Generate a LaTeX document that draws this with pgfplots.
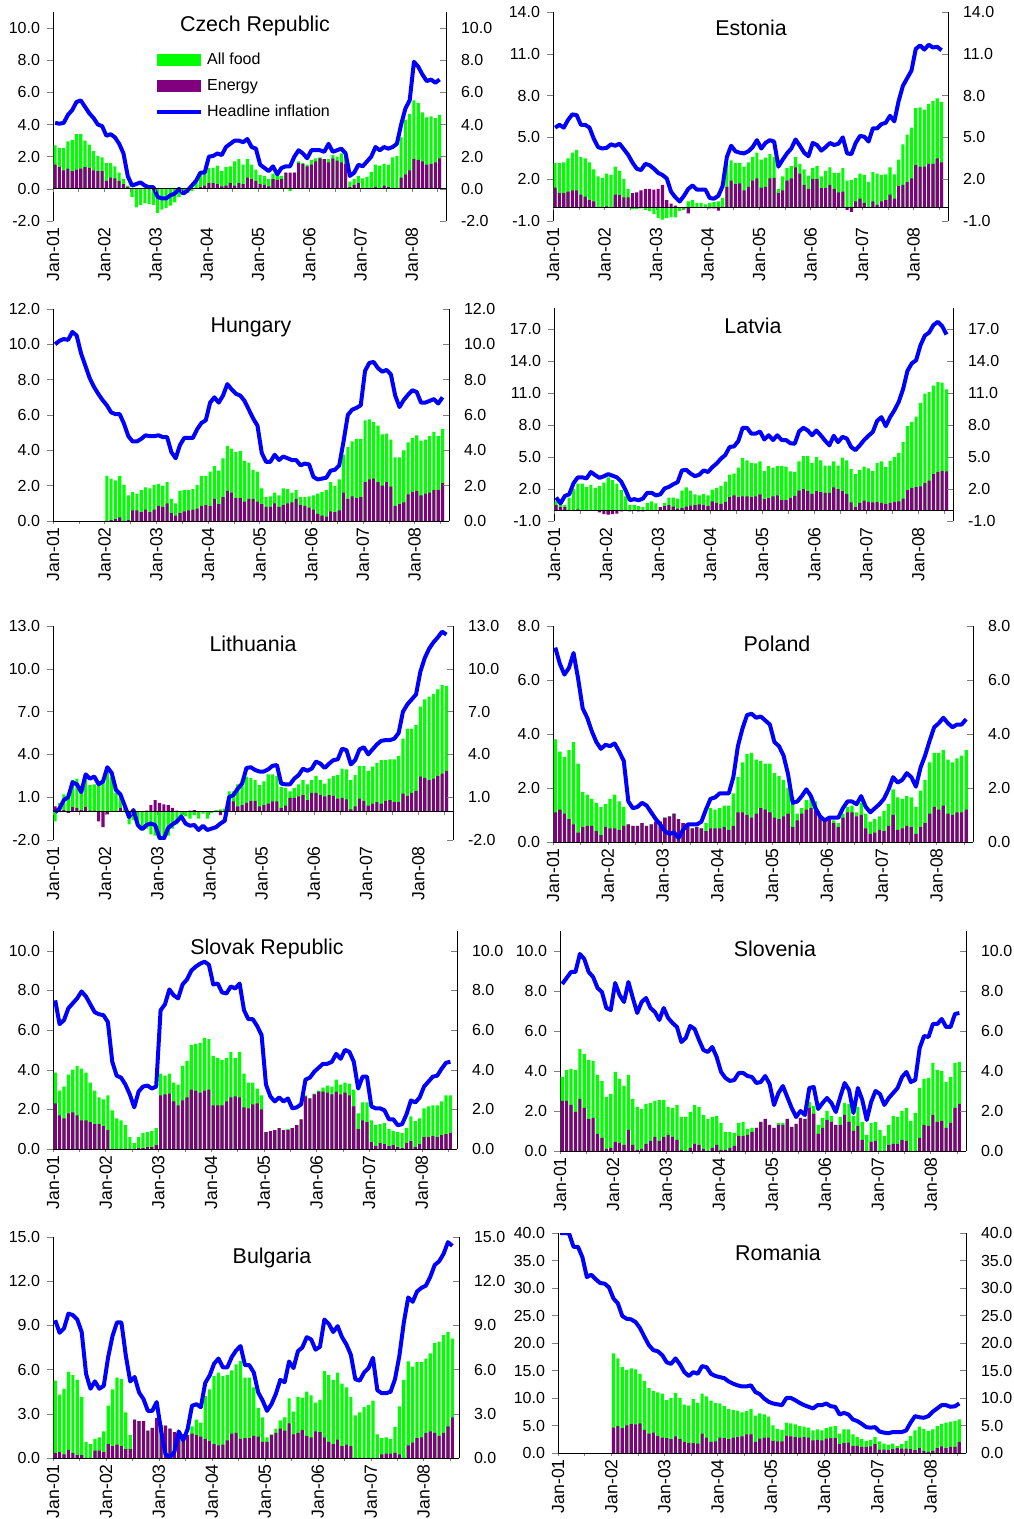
\documentclass[border=0pt]{standalone}
\usepackage{fontspec}
\setmainfont{Liberation Sans}
\usepackage{pgfplots}
\usepackage{pgfplotstable}
\pgfplotsset{compat=1.18}

\definecolor{foodgreen}{RGB}{0,255,0}
\definecolor{energypurple}{RGB}{128,0,128}
\definecolor{lineblue}{RGB}{0,0,255}
\newcommand{\tickfont}{\fontsize{8}{9.6}\selectfont}
\newcommand{\xtickfont}{\fontsize{8.8}{10}\selectfont}
\newcommand{\titlefont}{\fontsize{10.7}{12}\selectfont}

% columns: month index (0 = Jan-01), all food, energy, headline inflation
\pgfplotstableread{
m g e h
0 2.7 1.5 4.1
1 2.55 1.35 4.05
2 2.55 1.15 4.1
3 2.95 1.25 4.6
4 3.05 1.1 4.9
5 3.4 1.2 5.4
6 3.4 1.25 5.5
7 3.0 1.35 5.1
8 2.75 1.3 4.7
9 2.35 1.15 4.4
10 2.05 1.1 4.0
11 1.95 1.1 3.9
12 1.6 0.5 3.3
13 1.6 0.7 3.4
14 1.4 0.65 3.2
15 1.0 0.5 2.8
16 0.6 0.3 2.2
17 0.2 0.1 0.8
18 -0.5 0 0.2
19 -1.15 0 0.3
20 -1.0 0 0.4
21 -0.9 0 0.2
22 -0.95 0 0.1
23 -1.0 0 0.1
24 -1.5 0 -0.5
25 -1.3 0 -0.6
26 -1.2 0 -0.6
27 -1.05 0 -0.4
28 -0.85 0 -0.3
29 -0.5 0 0.0
30 -0.3 0 -0.3
31 -0.25 0 -0.1
32 -0.15 0 0.2
33 0.5 0.05 0.5
34 0.9 0.1 1.0
35 1.0 0.2 1.0
36 1.3 0.35 2.0
37 1.3 0.35 2.05
38 1.45 0.3 2.2
39 1.1 0.15 2.1
40 1.35 0.2 2.6
41 1.4 0.35 2.8
42 1.7 0.2 3.0
43 1.85 0.35 3.0
44 1.5 0.3 2.9
45 1.85 0.7 3.1
46 1.5 0.6 2.6
47 1.2 0.5 2.5
48 0.85 0.3 1.5
49 0.8 0.25 1.3
50 0.6 0.15 1.1
51 0.95 0.6 1.4
52 0.85 0.55 0.9
53 0.8 0.6 1.3
54 1.0 1.0 1.4
55 -0.15 1.0 1.4
56 1.0 1.0 2.0
57 1.7 1.6 2.4
58 1.6 1.55 2.2
59 1.5 1.4 1.9
60 1.8 1.5 2.4
61 1.9 1.7 2.4
62 1.95 1.9 2.4
63 1.85 1.85 2.3
64 1.85 1.65 2.8
65 2.1 1.9 2.3
66 2.0 1.75 2.4
67 2.2 1.65 2.5
68 2.2 1.55 2.2
69 0.45 0.1 0.8
70 0.6 0.25 1.0
71 0.8 0.35 1.5
72 0.65 0.05 1.4
73 0.75 0.05 1.7
74 1.05 0.05 2.0
75 1.5 0.1 2.6
76 1.45 0.05 2.4
77 1.55 0.2 2.6
78 1.5 0.1 2.5
79 1.95 0.05 2.6
80 2.05 0.05 2.8
81 3.2 0.7 4.0
82 4.3 0.9 5.0
83 4.65 1.15 5.5
84 5.5 1.85 7.9
85 5.35 1.8 7.6
86 4.75 1.7 7.1
87 4.45 1.5 6.7
88 4.5 1.55 6.8
89 4.4 1.65 6.6
90 4.6 1.9 6.8
}\czech

\pgfplotstableread{
m g e h
0 3.15 1.4 5.7
1 3.15 1.0 5.9
2 3.2 1.0 5.7
3 3.5 1.1 6.25
4 3.9 1.2 6.65
5 4.1 1.2 6.6
6 3.6 0.9 5.9
7 3.5 0.75 5.9
8 3.2 0.5 5.7
9 2.7 0.4 4.9
10 2.2 0.0 4.3
11 2.1 0.0 4.2
12 2.4 0.05 4.25
13 2.3 0.0 4.5
14 2.9 0.9 4.4
15 2.6 0.85 4.55
16 2.0 0.7 4.15
17 1.3 0.7 3.75
18 -0.15 1.0 3.2
19 -0.15 1.05 2.75
20 -0.1 1.2 2.65
21 -0.2 1.3 3.1
22 -0.3 1.3 3.0
23 -0.5 1.25 2.75
24 -0.8 1.3 2.45
25 -0.9 1.6 2.3
26 -0.8 0.5 2.05
27 -0.75 0.25 1.1
28 -0.75 0.1 0.7
29 -0.3 0.0 0.4
30 -0.2 -0.1 0.8
31 0.4 -0.45 1.3
32 0.5 0.0 1.55
33 0.3 0.0 1.25
34 0.3 0.0 1.25
35 0.2 0.0 1.25
36 0.3 -0.1 0.65
37 0.35 -0.1 0.6
38 0.4 -0.25 0.8
39 0.65 0.0 1.5
40 3.0 1.45 3.6
41 3.35 1.9 4.4
42 3.15 1.65 4.0
43 3.15 1.7 3.9
44 2.9 1.2 3.85
45 3.2 1.45 4.0
46 3.6 1.9 4.3
47 3.9 2.05 4.8
48 3.4 1.4 4.2
49 3.55 1.45 4.6
50 3.8 2.05 4.8
51 3.6 2.1 4.7
52 1.3 1.0 2.9
53 2.2 1.2 3.4
54 2.8 1.9 3.85
55 2.95 2.05 4.2
56 3.6 2.85 4.85
57 3.1 2.4 4.4
58 2.7 1.6 3.9
59 2.25 1.3 3.65
60 2.8 2.0 4.6
61 2.95 2.0 4.45
62 2.2 1.35 4.05
63 2.6 1.35 4.3
64 2.85 1.6 4.6
65 2.45 1.3 4.45
66 2.45 1.05 4.55
67 2.8 1.1 5.0
68 1.9 -0.2 3.85
69 1.95 -0.35 3.8
70 2.1 0.4 4.6
71 2.4 0.6 5.1
72 2.3 0.3 5.05
73 1.8 0.0 4.7
74 2.5 0.4 5.65
75 2.4 0.15 5.65
76 2.3 0.4 5.95
77 2.35 0.5 6.05
78 2.85 0.9 6.55
79 2.35 0.6 6.15
80 3.4 1.5 7.6
81 4.5 1.6 8.7
82 5.2 1.8 9.25
83 5.7 2.05 9.8
84 7.1 3.0 11.35
85 7.15 2.9 11.6
86 7.0 2.9 11.3
87 7.4 3.1 11.65
88 7.6 3.1 11.45
89 7.8 3.5 11.5
90 7.55 3.2 11.25
}\estonia

\pgfplotstableread{
m g e h
0 nan nan 10.0
1 nan nan 10.2
2 nan nan 10.3
3 nan nan 10.25
4 nan nan 10.7
5 nan nan 10.5
6 nan nan 9.5
7 nan nan 8.8
8 nan nan 8.1
9 nan nan 7.6
10 nan nan 7.2
11 nan nan 6.85
12 2.55 0.0 6.55
13 2.4 0.05 6.15
14 2.3 0.1 6.05
15 2.55 0.2 6.05
16 2.05 0.0 5.5
17 1.45 0.05 4.8
18 1.65 0.6 4.5
19 1.55 0.6 4.5
20 1.75 0.5 4.65
21 1.9 0.65 4.85
22 1.85 0.5 4.8
23 2.05 0.65 4.8
24 2.1 0.85 4.85
25 2.0 0.8 4.75
26 2.2 1.0 4.75
27 1.25 0.45 3.9
28 1.0 0.3 3.55
29 1.7 0.45 4.3
30 1.75 0.55 4.7
31 1.75 0.6 4.7
32 1.8 0.65 4.7
33 2.05 0.7 5.2
34 2.55 0.85 5.55
35 2.55 0.9 5.7
36 2.8 0.85 6.7
37 3.1 1.25 7.0
38 2.85 0.95 6.7
39 3.55 1.35 7.1
40 4.25 1.7 7.75
41 4.1 1.6 7.45
42 3.9 1.3 7.2
43 3.95 1.3 7.1
44 3.4 1.1 6.8
45 3.3 1.25 6.3
46 2.9 1.25 5.8
47 2.8 1.1 5.4
48 1.85 0.95 3.85
49 1.35 0.8 3.35
50 1.4 0.8 3.35
51 1.6 1.0 3.75
52 1.45 0.8 3.45
53 1.85 0.9 3.65
54 1.8 1.0 3.55
55 1.6 1.05 3.45
56 1.75 1.25 3.45
57 1.35 0.9 3.15
58 1.35 0.85 3.25
59 1.4 0.75 3.2
60 1.45 0.65 2.5
61 1.55 0.4 2.35
62 1.65 0.3 2.4
63 1.75 0.25 2.45
64 2.2 0.55 2.85
65 2.0 0.5 2.9
66 2.35 0.6 3.15
67 3.75 1.6 4.5
68 4.2 1.25 6.0
69 4.5 1.4 6.3
70 4.65 1.3 6.4
71 4.65 1.35 6.55
72 5.7 2.2 8.5
73 5.75 2.35 8.95
74 5.6 2.4 9.0
75 5.4 2.2 8.65
76 4.9 2.0 8.45
77 4.95 2.2 8.55
78 4.6 1.95 8.3
79 3.6 0.85 7.1
80 3.6 0.95 6.45
81 4.0 1.05 6.85
82 4.45 1.5 7.15
83 4.7 1.65 7.4
84 4.85 1.7 7.3
85 4.55 1.45 6.7
86 4.6 1.55 6.7
87 4.8 1.6 6.8
88 5.05 1.75 6.9
89 4.8 1.75 6.65
90 5.2 2.15 7.0
}\hungary

\pgfplotstableread{
m g e h
0 0.85 0.5 1.2
1 0.5 0.3 0.65
2 0.5 0.3 1.35
3 1.2 0.05 1.5
4 2.0 0.05 2.55
5 2.5 0.1 3.1
6 2.5 0.0 3.1
7 2.2 0.0 3.0
8 2.4 -0.05 3.6
9 2.1 -0.05 3.3
10 2.3 -0.2 3.05
11 2.6 -0.35 3.2
12 3.1 -0.4 3.4
13 2.85 -0.35 3.25
14 2.5 -0.3 3.1
15 1.9 -0.1 2.7
16 1.3 -0.05 1.9
17 0.5 -0.1 0.95
18 0.5 -0.05 1.05
19 0.4 -0.1 0.95
20 0.3 -0.1 1.1
21 0.7 0.0 1.65
22 0.85 0.0 1.65
23 0.65 0.0 1.4
24 -0.05 0.3 1.5
25 0.7 0.4 2.05
26 1.2 0.5 2.2
27 1.2 0.35 2.45
28 1.1 0.15 2.65
29 1.85 0.2 3.75
30 2.15 0.35 3.8
31 1.85 0.45 3.45
32 1.5 0.5 3.2
33 1.4 0.55 3.35
34 1.55 0.5 3.75
35 1.4 0.4 3.6
36 1.95 0.85 4.05
37 2.1 0.7 4.4
38 2.3 0.6 4.85
39 2.7 0.8 5.2
40 3.35 1.25 5.95
41 3.45 1.4 6.0
42 4.0 1.25 6.5
43 4.9 1.3 7.75
44 4.7 1.3 7.75
45 4.45 1.25 7.2
46 4.4 1.3 7.2
47 4.6 1.5 7.4
48 3.7 1.05 6.65
49 4.15 1.15 7.05
50 4.0 1.3 6.6
51 4.15 1.4 7.05
52 4.15 0.95 6.6
53 4.1 0.95 6.6
54 3.65 1.15 6.3
55 3.6 1.35 6.25
56 4.6 1.85 7.4
57 5.1 2.0 7.75
58 5.1 1.8 7.5
59 4.45 1.55 7.05
60 5.0 1.8 7.5
61 4.7 1.7 7.05
62 4.2 1.65 6.55
63 4.2 1.65 6.1
64 4.6 2.15 7.0
65 4.2 2.0 6.4
66 4.95 1.8 6.9
67 4.7 1.55 6.75
68 3.9 0.75 5.95
69 3.4 0.3 5.65
70 3.8 0.7 6.1
71 4.1 0.9 6.6
72 3.95 0.8 7.0
73 3.7 0.75 7.35
74 4.45 0.8 8.4
75 4.6 0.7 8.75
76 4.05 0.6 7.9
77 4.65 0.7 8.75
78 5.0 0.8 9.4
79 5.4 0.85 10.2
80 6.4 1.1 11.4
81 7.9 1.9 13.1
82 8.3 2.1 13.8
83 8.8 2.2 14.1
84 10.1 2.25 15.5
85 10.95 2.55 16.4
86 11.1 2.8 16.7
87 11.7 3.4 17.4
88 12.05 3.6 17.7
89 12.0 3.7 17.3
90 11.35 3.65 16.5
}\latvia

\pgfplotstableread{
m g e h
0 -0.7 0.35 -0.05
1 0.6 0.2 0.2
2 1.2 0.1 0.8
3 1.25 -0.1 1.0
4 2.2 0.3 2.05
5 2.3 0.25 1.9
6 1.6 0.1 1.35
7 2.4 0.3 2.6
8 1.85 0.05 2.3
9 1.9 0.05 2.45
10 2.1 -0.7 1.9
11 2.1 -1.1 2.1
12 2.9 -0.2 3.1
13 2.4 0.0 2.7
14 1.3 0.0 1.5
15 1.0 0.25 1.2
16 0.2 0.0 0.4
17 -0.9 0.0 -0.4
18 -0.6 0.0 0.1
19 -1.0 -0.05 -0.95
20 -1.3 -0.05 -1.25
21 -1.2 0.05 -0.95
22 -1.6 0.45 -0.85
23 -1.7 0.8 -0.95
24 -2.2 0.6 -1.85
25 -2.2 0.5 -1.9
26 -1.7 0.45 -1.15
27 -1.2 0.25 -0.9
28 -0.9 0.05 -0.7
29 -0.6 0.0 -0.35
30 -0.35 0.0 -0.85
31 -0.5 0.05 -1.0
32 -0.25 0.1 -0.95
33 -0.5 0.0 -1.3
34 -0.15 0.0 -1.0
35 -0.5 0.0 -1.3
36 -0.1 0.0 -1.2
37 0.1 -0.05 -1.1
38 0.15 -0.25 -0.85
39 0.2 0.0 -0.65
40 1.4 0.7 1.0
41 1.4 0.7 1.15
42 1.9 0.35 1.6
43 2.2 0.45 1.95
44 2.45 0.6 3.05
45 2.35 0.75 3.1
46 2.2 0.75 2.9
47 1.85 0.35 2.8
48 2.1 0.45 2.8
49 2.6 0.55 2.95
50 2.6 0.7 3.2
51 2.5 0.7 3.25
52 1.7 0.25 1.95
53 1.65 0.4 1.9
54 1.4 0.95 1.9
55 1.65 0.95 2.3
56 1.9 1.05 2.55
57 2.2 1.15 3.0
58 1.9 0.8 2.85
59 2.2 1.3 3.0
60 2.5 1.3 3.5
61 2.2 1.15 3.35
62 1.95 1.05 3.05
63 2.3 1.15 3.35
64 2.5 1.1 3.6
65 2.55 0.9 3.65
66 3.0 0.95 4.4
67 2.95 0.85 4.3
68 2.2 0.15 3.3
69 2.55 0.35 3.6
70 3.2 0.9 4.35
71 3.2 0.75 4.5
72 2.85 0.4 4.0
73 3.15 0.55 4.35
74 3.4 0.65 4.7
75 3.6 0.55 4.95
76 3.6 0.75 5.0
77 3.65 0.8 5.0
78 3.65 0.65 5.1
79 3.9 0.65 5.5
80 5.1 1.25 7.0
81 5.8 1.1 7.5
82 5.8 1.3 7.85
83 6.05 1.45 8.2
84 7.35 2.45 9.8
85 7.85 2.35 10.75
86 8.05 2.2 11.4
87 8.25 2.3 11.85
88 8.55 2.5 12.2
89 8.85 2.65 12.6
90 8.8 2.85 12.4
}\lithuania

\pgfplotstableread{
m g e h
0 3.8 1.1 7.2
1 3.35 1.2 6.6
2 3.15 1.05 6.2
3 3.4 0.85 6.45
4 3.7 0.65 7.0
5 2.9 0.35 6.05
6 1.85 0.55 4.95
7 1.75 0.6 4.6
8 1.6 0.6 4.1
9 1.45 0.4 3.7
10 1.3 0.25 3.45
11 1.4 0.55 3.6
12 1.6 0.5 3.55
13 1.75 0.5 3.65
14 1.5 0.45 3.35
15 1.3 0.6 3.0
16 0.65 0.65 1.5
17 0.6 0.6 1.25
18 0.6 0.6 1.3
19 0.7 0.7 1.45
20 0.6 0.6 1.35
21 0.65 0.65 1.1
22 0.75 0.75 0.85
23 0.75 0.75 0.65
24 0.9 0.9 0.4
25 0.95 0.95 0.3
26 1.05 1.05 0.35
27 0.85 0.85 0.15
28 0.7 0.7 0.45
29 0.7 0.7 0.65
30 0.5 0.5 0.65
31 0.55 0.55 0.65
32 0.5 0.5 0.75
33 0.7 0.4 1.2
34 1.25 0.5 1.6
35 1.2 0.5 1.65
36 1.25 0.5 1.8
37 1.35 0.55 1.8
38 1.35 0.45 1.8
39 1.8 0.6 2.4
40 2.4 1.1 3.55
41 2.95 1.1 4.2
42 3.25 1.0 4.7
43 3.3 0.9 4.75
44 3.05 1.05 4.6
45 3.0 1.25 4.65
46 2.9 1.2 4.5
47 2.9 1.1 4.35
48 2.55 0.9 3.7
49 2.45 0.85 3.55
50 2.3 0.95 3.2
51 2.0 1.05 2.5
52 1.65 0.55 1.45
53 1.05 0.8 1.5
54 1.25 1.05 1.7
55 1.55 1.2 1.95
56 1.7 1.25 1.7
57 1.5 1.15 1.25
58 0.95 0.9 0.95
59 0.85 0.75 0.8
60 0.85 0.85 0.9
61 0.8 0.7 0.9
62 0.7 0.55 0.9
63 1.05 0.9 1.25
64 1.3 1.1 1.5
65 1.35 1.1 1.5
66 1.1 0.95 1.4
67 1.45 1.0 1.7
68 1.05 0.5 1.3
69 0.75 0.3 1.1
70 0.85 0.35 1.25
71 0.95 0.45 1.4
72 1.15 0.4 1.6
73 1.4 0.6 1.95
74 1.95 1.0 2.4
75 1.65 0.45 2.2
76 1.6 0.5 2.3
77 1.7 0.6 2.55
78 1.65 0.55 2.4
79 1.3 0.3 2.05
80 1.9 0.55 2.75
81 2.3 0.7 3.2
82 2.95 1.05 3.75
83 3.3 1.3 4.25
84 3.3 1.2 4.4
85 3.4 1.35 4.6
86 3.05 1.05 4.4
87 2.95 1.0 4.25
88 3.1 1.1 4.35
89 3.2 1.1 4.35
90 3.4 1.2 4.55
}\poland

\pgfplotstableread{
m g e h
0 3.85 2.3 7.5
1 2.95 1.7 6.3
2 3.15 1.55 6.5
3 3.75 1.8 7.1
4 4.0 1.85 7.35
5 4.2 1.7 7.6
6 4.05 1.45 7.95
7 3.85 1.45 7.7
8 3.35 1.35 7.3
9 2.95 1.25 6.9
10 2.6 1.25 6.8
11 2.5 1.15 6.75
12 2.7 0.95 6.4
13 1.95 0.0 4.4
14 1.55 0.0 3.7
15 1.45 0.0 3.6
16 1.2 0.0 3.25
17 0.6 0.0 2.75
18 0.3 0.0 2.1
19 0.6 0.05 2.9
20 0.8 0.05 3.15
21 0.85 0.1 3.2
22 0.9 0.1 3.05
23 1.05 0.2 3.15
24 3.8 2.7 7.0
25 3.7 2.75 7.3
26 3.8 2.8 8.05
27 3.35 2.4 7.75
28 3.25 2.2 7.6
29 4.2 2.45 8.3
30 4.45 2.6 8.55
31 5.25 3.0 9.0
32 5.3 2.95 9.2
33 5.35 2.85 9.35
34 5.6 2.95 9.45
35 5.55 3.0 9.3
36 4.7 2.2 8.3
37 4.6 2.2 8.35
38 4.5 2.2 7.9
39 4.6 2.4 7.85
40 4.9 2.6 8.2
41 4.6 2.65 8.1
42 4.9 2.6 8.35
43 3.8 2.1 7.0
44 3.35 2.05 6.55
45 3.35 2.25 6.55
46 3.05 2.3 6.2
47 2.7 2.0 5.75
48 0.85 0.85 3.25
49 0.9 0.9 2.65
50 0.95 0.95 2.4
51 1.05 1.05 2.6
52 0.95 0.95 2.4
53 1.0 0.95 2.55
54 1.05 1.05 2.05
55 1.2 1.2 2.1
56 1.5 1.5 2.25
57 2.7 2.65 3.5
58 2.55 2.55 3.6
59 2.8 2.75 3.9
60 2.95 2.9 4.1
61 3.1 2.9 4.3
62 3.2 2.85 4.3
63 3.15 2.75 4.4
64 3.5 2.9 4.8
65 3.25 2.75 4.55
66 3.35 2.85 5.0
67 3.3 2.7 4.9
68 3.0 2.15 4.4
69 1.8 1.0 3.05
70 2.35 1.45 3.65
71 2.35 1.35 3.65
72 1.45 0.35 2.15
73 1.2 0.15 2.05
74 1.25 0.3 2.05
75 1.3 0.25 1.95
76 1.0 0.15 1.5
77 0.9 0.2 1.5
78 0.85 0.1 1.2
79 0.8 0.05 1.25
80 1.05 0.3 1.75
81 1.65 0.4 2.45
82 1.4 0.1 2.35
83 1.55 0.25 2.6
84 2.05 0.6 3.15
85 2.15 0.6 3.4
86 2.2 0.65 3.65
87 2.2 0.6 3.7
88 2.4 0.7 4.05
89 2.7 0.75 4.35
90 2.7 0.8 4.4
}\slovakia

\pgfplotstableread{
m g e h
0 3.7 2.5 8.35
1 4.05 2.5 8.65
2 4.1 2.3 8.95
3 4.05 1.95 8.95
4 5.1 2.6 9.85
5 4.85 2.15 9.6
6 4.55 1.6 8.95
7 4.5 1.65 8.7
8 3.8 0.85 8.15
9 3.5 0.65 7.95
10 2.7 0.1 7.15
11 2.85 0.15 7.05
12 3.95 0.45 8.4
13 3.6 0.4 7.8
14 3.25 0.3 7.45
15 3.8 1.05 8.45
16 2.6 0.3 7.65
17 2.2 0.05 6.9
18 2.1 0.1 7.45
19 2.35 0.35 7.65
20 2.4 0.5 7.15
21 2.5 0.7 6.95
22 2.55 0.5 6.55
23 2.55 0.7 7.15
24 2.2 0.8 6.65
25 2.15 0.7 6.4
26 2.3 0.55 6.2
27 1.7 0.05 5.45
28 1.7 0.0 5.65
29 1.95 0.15 6.25
30 2.3 0.35 6.1
31 2.2 0.3 5.55
32 1.8 0.1 5.05
33 1.6 0.0 4.95
34 1.7 0.15 5.2
35 1.75 0.3 4.7
36 1.4 0.05 3.95
37 0.95 0.05 3.65
38 0.95 0.15 3.5
39 0.9 0.25 3.55
40 1.4 0.75 3.9
41 1.45 0.75 3.9
42 1.1 0.8 3.75
43 1.15 0.95 3.7
44 1.15 1.15 3.4
45 1.45 1.45 3.45
46 1.6 1.6 3.75
47 1.3 1.3 3.35
48 1.15 1.15 2.3
49 1.4 1.3 2.9
50 1.4 1.3 3.25
51 1.6 1.6 2.7
52 1.2 1.2 2.15
53 1.35 1.35 1.7
54 1.65 1.65 2.0
55 1.6 1.6 1.8
56 2.45 2.15 3.15
57 2.25 1.85 3.2
58 1.3 0.85 2.1
59 1.65 1.15 2.4
60 2.0 1.55 2.65
61 1.75 1.45 2.4
62 1.3 1.3 1.95
63 1.7 1.3 2.7
64 2.4 1.8 3.4
65 2.35 1.45 3.05
66 1.75 1.0 1.9
67 2.2 1.25 3.15
68 1.45 0.55 2.55
69 0.8 0.0 1.55
70 1.4 0.45 2.45
71 1.45 0.5 3.0
72 1.05 0.0 2.85
73 0.75 0.0 2.3
74 1.3 0.3 2.65
75 1.75 0.35 2.9
76 1.7 0.35 3.15
77 2.0 0.55 3.7
78 2.15 0.5 3.95
79 1.5 0.0 3.45
80 1.9 0.0 3.55
81 3.15 0.65 5.15
82 3.6 1.3 5.75
83 3.65 1.25 5.7
84 4.4 1.8 6.35
85 4.05 1.45 6.35
86 4.0 1.5 6.6
87 3.45 1.15 6.2
88 3.7 1.4 6.2
89 4.4 2.15 6.85
90 4.45 2.35 6.9
}\slovenia

\pgfplotstableread{
m g e h
0 5.25 0.35 9.35
1 4.3 0.4 8.5
2 4.7 0.25 8.8
3 5.85 0.55 9.8
4 5.65 0.35 9.7
5 5.3 0.2 9.4
6 4.15 0.2 8.55
7 1.1 0.0 5.7
8 0.95 0.0 4.7
9 1.3 0.5 5.2
10 1.4 0.5 4.7
11 1.8 0.4 4.9
12 3.55 0.95 6.85
13 4.65 0.8 8.3
14 5.45 0.9 9.2
15 5.35 0.8 9.2
16 3.1 0.6 6.95
17 1.55 0.6 5.2
18 2.6 2.6 5.5
19 2.5 2.5 4.45
20 2.5 2.5 4.0
21 1.85 1.85 3.2
22 2.05 2.05 3.2
23 2.7 2.7 3.8
24 2.25 2.25 1.85
25 2.2 2.2 0.25
26 2.0 2.0 0.05
27 1.75 1.75 0.4
28 1.8 1.8 1.8
29 1.6 1.6 1.2
30 1.55 1.55 1.95
31 2.15 1.65 3.55
32 2.6 1.55 3.65
33 2.4 1.45 3.45
34 4.2 1.3 5.1
35 4.65 1.15 5.6
36 5.55 0.95 6.4
37 5.8 0.85 6.75
38 5.55 0.9 6.15
39 5.65 1.2 6.15
40 5.95 1.65 6.85
41 6.35 1.7 7.3
42 6.6 1.3 7.6
43 5.45 1.35 6.3
44 5.45 1.35 6.3
45 4.8 1.5 5.8
46 3.4 1.45 4.45
47 2.75 1.1 3.9
48 1.4 1.1 3.2
49 1.6 1.55 3.65
50 2.0 1.7 4.35
51 2.55 2.0 5.3
52 2.75 1.85 5.15
53 4.05 2.35 6.55
54 3.15 1.6 6.1
55 4.15 1.7 7.25
56 4.1 1.9 7.5
57 4.5 1.5 8.2
58 4.25 1.4 8.05
59 3.75 1.8 7.35
60 3.95 1.75 7.55
61 5.9 1.4 9.4
62 5.65 1.1 9.1
63 5.3 0.95 8.55
64 5.8 1.25 8.95
65 5.05 0.8 8.2
66 4.8 0.9 7.7
67 4.15 0.8 7.0
68 2.9 0.0 5.35
69 3.1 0.0 5.25
70 3.45 0.0 5.8
71 3.6 0.0 6.1
72 3.9 0.0 6.8
73 1.6 0.0 4.6
74 1.35 0.25 4.4
75 1.4 0.3 4.4
76 1.3 0.3 4.5
77 2.1 0.35 5.35
78 3.5 0.25 6.95
79 5.3 0.0 9.2
80 6.55 0.85 10.9
81 6.2 1.05 10.6
82 6.5 1.35 11.3
83 6.5 1.4 11.55
84 6.75 1.7 11.7
85 7.1 1.8 12.3
86 7.8 1.7 13.1
87 7.9 1.5 13.35
88 8.35 1.7 13.85
89 8.55 2.15 14.65
90 8.1 2.75 14.4
}\bulgaria

\pgfplotstableread{
m g e h
0 nan nan 40.0
1 nan nan 40.0
2 nan nan 39.9
3 nan nan 37.5
4 nan nan 37.5
5 nan nan 35.6
6 nan nan 32.0
7 nan nan 32.4
8 nan nan 31.6
9 nan nan 30.9
10 nan nan 30.8
11 nan nan 30.1
12 18.1 4.6 28.1
13 17.2 4.9 27.2
14 15.6 4.5 24.9
15 15.1 5.0 24.4
16 15.4 5.3 24.3
17 15.2 5.2 23.8
18 14.4 5.4 22.7
19 13.1 4.2 21.1
20 11.8 3.5 19.6
21 11.3 3.7 18.7
22 11.0 3.1 18.5
23 10.8 2.8 17.8
24 9.6 2.7 16.5
25 10.0 2.5 16.2
26 10.9 3.0 17.2
27 10.0 2.5 16.1
28 8.8 2.0 14.7
29 8.6 1.8 14.0
30 9.8 1.8 14.7
31 9.1 1.7 14.4
32 10.8 3.5 15.8
33 10.3 2.8 15.6
34 9.5 2.0 14.4
35 9.1 2.1 14.0
36 9.0 2.8 13.8
37 8.5 2.7 13.6
38 8.0 2.5 13.0
39 7.8 2.8 12.6
40 7.7 2.9 12.3
41 7.4 3.0 12.1
42 7.6 3.4 12.1
43 8.0 3.4 12.3
44 6.8 2.0 11.1
45 7.2 2.6 10.7
46 7.0 2.8 9.9
47 6.6 2.8 9.3
48 5.0 2.2 9.0
49 4.4 2.1 8.85
50 4.2 2.1 8.7
51 5.5 3.1 10.0
52 5.4 3.0 10.0
53 5.2 2.9 9.6
54 4.9 2.8 9.1
55 4.8 2.9 8.7
56 4.6 2.8 8.4
57 4.1 2.3 8.1
58 4.3 2.4 8.7
59 4.1 2.3 8.7
60 4.5 2.6 9.0
61 4.8 2.7 8.5
62 4.9 2.7 8.4
63 3.5 1.6 7.0
64 4.3 1.8 7.3
65 4.3 1.9 7.0
66 3.4 1.3 6.1
67 2.9 1.3 5.8
68 2.5 1.1 5.3
69 2.2 1.1 4.7
70 2.4 1.2 4.6
71 2.9 1.6 4.7
72 2.1 0.6 3.9
73 1.7 0.6 3.7
74 1.5 0.5 3.6
75 1.7 0.7 3.8
76 1.3 0.9 3.8
77 1.6 0.8 3.8
78 2.2 0.8 4.1
79 3.1 0.7 5.5
80 4.1 0.5 6.7
81 4.8 0.9 6.5
82 4.4 0.4 6.4
83 4.0 0.2 6.7
84 4.3 0.4 7.5
85 4.9 0.9 8.1
86 5.3 1.2 8.7
87 5.5 0.9 8.7
88 5.7 1.1 8.4
89 5.8 1.1 8.5
90 6.1 2.0 9.0
}\romania

\pgfplotsset{
  panel/.style={scale only axis, anchor=south west, xmin=-0.5, xmax=91.5,
    tick label style={font=\tickfont},
    yticklabel style={/pgf/number format/fixed, /pgf/number format/fixed zerofill,
      /pgf/number format/precision=1, /pgf/number format/assume math mode=true},
    major tick length=3pt, minor tick num=0, clip=true},
  foodbar/.style={ybar, bar width=0.72, bar shift=0pt, fill=foodgreen, draw=none,
    legend image code/.code={\fill[foodgreen] (0pt,-3pt) rectangle (22pt,3pt);}},
  energybar/.style={ybar, bar width=0.72, bar shift=0pt, fill=energypurple, draw=none,
    legend image code/.code={\fill[energypurple] (0pt,-3pt) rectangle (22pt,3pt);}},
  headline/.style={lineblue, line width=2pt, line join=round, mark=none,
    legend image code/.code={\draw[lineblue, line width=2pt] (0pt,0pt) -- (22pt,0pt);}},
}

% #1 table, #2 x, #3 y, #4 width, #5 height, #6 ymin, #7 ymax, #8 yticks, #9 extra options
\newcommand{\panel}[9]{%
\begin{axis}[panel, at={(#2pt,#3pt)}, width=#4pt, height=#5pt, ymin=#6, ymax=#7, ytick={#8},
    axis y line*=left, axis x line*=bottom, x axis line style={draw=none},
    xtick style={draw=none}, tick align=outside,
    xtick={-0.5,11.5,...,83.5},
    xticklabels={Jan-01,Jan-02,Jan-03,Jan-04,Jan-05,Jan-06,Jan-07,Jan-08},
    xticklabel style={rotate=90, anchor=east, inner sep=0pt, font=\xtickfont}, #9]
\addplot[foodbar] table[x=m, y=g] {#1};
\addplot[energybar] table[x=m, y=e] {#1};
\addplot[headline] table[x=m, y=h] {#1};
\end{axis}
\begin{axis}[panel, at={(#2pt,#3pt)}, width=#4pt, height=#5pt, ymin=#6, ymax=#7, ytick={#8},
    axis y line*=right, axis x line=none, xtick=\empty, tick align=inside,
    yticklabel style={xshift=4pt}]
\end{axis}
\begin{axis}[panel, at={(#2pt,#3pt)}, width=#4pt, height=#5pt, ymin=#6, ymax=#7,
    axis x line=middle, axis y line=none, ytick=\empty,
    xtick={-0.5,5.5,...,89.5}, xticklabels={}, tick align=outside,
    major tick length=1.7pt, x axis line style={-}, inner axis line style={-}]
\end{axis}
}

\begin{document}
\begin{tikzpicture}
\panel{\czech}{26.5}{649}{196.5}{104.5}{-2}{11}{-2,0,...,10}{legend entries={All food,Energy,Headline inflation},
  legend style={at={(0.259,0.824)}, anchor=north west, draw=none, fill=none, inner sep=0pt,
  row sep=1.75pt, font=\tickfont}, legend cell align=left}
\panel{\estonia}{276.5}{649}{197.5}{104.5}{-1}{14}{-1,2,...,14}{}
\panel{\hungary}{26.5}{499}{198}{106}{0}{12}{0,2,...,12}{}
\panel{\latvia}{277}{499}{199.5}{106.5}{-1}{19}{-1,2,...,17}{}
\panel{\lithuania}{26.5}{339.5}{200}{107}{-2}{13}{-2,1,...,13}{}
\panel{\poland}{276.5}{338.5}{210}{108}{0}{8}{0,2,...,8}{}
\panel{\slovakia}{26.5}{185}{202}{109}{0}{11}{0,2,...,10}{}
\panel{\slovenia}{280}{184}{203}{110}{0}{11}{0,2,...,10}{}
\panel{\bulgaria}{26.5}{30.5}{203}{110.5}{0}{15}{0,3,...,15}{}
\panel{\romania}{279}{33}{204}{110}{0}{40}{0,5,...,40}{}

\node[font=\titlefont] at (127.5pt,746.5pt) {Czech Republic};
\node[font=\titlefont] at (375.5pt,745.5pt) {Estonia};
\node[font=\titlefont] at (125.5pt,596pt) {Hungary};
\node[font=\titlefont] at (376.5pt,596.5pt) {Latvia};
\node[font=\titlefont] at (126.5pt,437.5pt) {Lithuania};
\node[font=\titlefont] at (388.5pt,437.5pt) {Poland};
\node[font=\titlefont] at (133.5pt,285pt) {Slovak Republic};
\node[font=\titlefont] at (387.5pt,285pt) {Slovenia};
\node[font=\titlefont] at (136pt,130.5pt) {Bulgaria};
\node[font=\titlefont] at (389pt,133pt) {Romania};

\pgfresetboundingbox
\path[use as bounding box] (0pt,0pt) rectangle (506.5pt,759.5pt);
\end{tikzpicture}
\end{document}
